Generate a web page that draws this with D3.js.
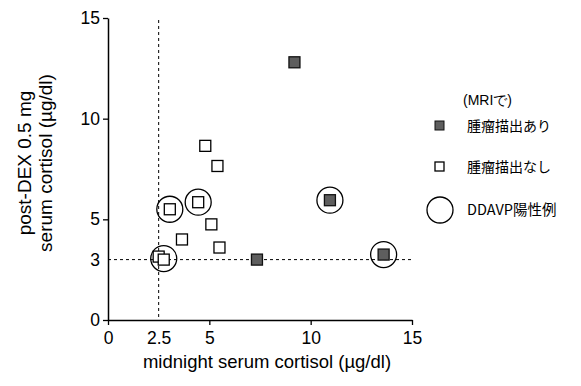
<!DOCTYPE html>
<html><head><meta charset="utf-8">
<script src="https://cdn.jsdelivr.net/npm/d3@7"></script>
<style>body{margin:0;background:#fff}text{font-family:"Liberation Sans",Arial,sans-serif}</style>
</head><body><svg id="c" width="581" height="386"></svg>
<script>
// data: [midnight cortisol, post-DEX cortisol]
const tumorYes = [[9.2,12.8],[10.95,5.95],[13.6,3.25],[7.35,3.0]];
const tumorNo = [[4.8,8.65],[5.4,7.65],[3.05,5.5],[4.45,5.85],[5.1,4.75],[3.65,4.0],[5.5,3.6],[2.5,3.15],[2.75,3.0]];
const ddavpPos = [[3.05,5.5],[4.45,5.85],[10.95,5.95],[13.6,3.25],[2.75,3.05]];
const xTicks = [0,2.5,5,10,15];
const yTicks = [0,3,5,10,15];
const cutX = 2.5, cutY = 3;
const legendLabels = ["(MRIで)","腫瘤描出あり","腫瘤描出なし","DDAVP陽性例"];

const svg = d3.select("#c");
const x = d3.scaleLinear().domain([0,15]).range([108,412]);
const y = d3.scaleLinear().domain([0,15]).range([320,18]);

// reference lines
svg.append("line").attr("x1",x(cutX)).attr("x2",x(cutX)).attr("y1",y(15)+2).attr("y2",y(0))
  .attr("stroke","#000").attr("stroke-width",1).attr("stroke-dasharray","3,3");
svg.append("line").attr("x1",x(0)).attr("x2",x(15)).attr("y1",y(cutY)).attr("y2",y(cutY))
  .attr("stroke","#000").attr("stroke-width",1).attr("stroke-dasharray","3,3");

const xa = svg.append("g").attr("transform",`translate(0,${y(0)})`)
  .call(d3.axisBottom(x).tickValues(xTicks).tickFormat(d=>d).tickSize(5).tickSizeOuter(0));
const ya = svg.append("g").attr("transform",`translate(${x(0)},0)`)
  .call(d3.axisLeft(y).tickValues(yTicks).tickFormat(d=>d).tickSize(5).tickSizeOuter(0));
[xa,ya].forEach(g=>{
  g.attr("font-size",null).attr("font-family",null);
  g.select(".domain").attr("stroke","#000").attr("stroke-width",1.5);
  g.selectAll(".tick line").attr("stroke","#000").attr("stroke-width",1.3);
  g.selectAll(".tick text").style("font-size","17.5px").attr("fill","#000")
   .style("font-family","'Liberation Sans',Arial,sans-serif");
});
xa.selectAll(".tick").filter(d=>d===2.5).select("line").remove();
ya.selectAll(".tick").filter(d=>d===3).select("line").remove();
xa.selectAll(".tick text").attr("y",0).attr("dy","24");
ya.selectAll(".tick text").attr("x",-8);

// axis titles
svg.append("text").attr("x",267).attr("y",368).attr("text-anchor","middle")
  .style("font-size","18.5px").text("midnight serum cortisol (µg/dl)");
const yt = svg.append("g").attr("transform","translate(0,163) rotate(-90)");
yt.append("text").attr("x",0).attr("y",31).attr("text-anchor","middle").style("font-size","19px").text("post-DEX 0.5 mg");
yt.append("text").attr("x",0).attr("y",52).attr("text-anchor","middle").style("font-size","19px").text("serum cortisol (µg/dl)");

const s = 11;
svg.append("g").selectAll("rect").data(tumorNo).join("rect")
  .attr("x",d=>x(d[0])-s/2).attr("y",d=>y(d[1])-s/2).attr("width",s).attr("height",s)
  .attr("fill","#fff").attr("stroke","#000").attr("stroke-width",1.3);
svg.append("g").selectAll("rect").data(tumorYes).join("rect")
  .attr("x",d=>x(d[0])-s/2).attr("y",d=>y(d[1])-s/2).attr("width",s).attr("height",s)
  .attr("fill","#5e5e5e").attr("stroke","#111").attr("stroke-width",1.3);
svg.append("g").selectAll("circle").data(ddavpPos).join("circle")
  .attr("cx",d=>x(d[0])).attr("cy",d=>y(d[1])).attr("r",13)
  .attr("fill","none").attr("stroke","#000").attr("stroke-width",1.3);

// legend
const lg = svg.append("g");
lg.append("text").attr("x",463).attr("y",105).style("font-size","14px").text(legendLabels[0]);
lg.append("rect").attr("x",435).attr("y",121).attr("width",9).attr("height",9).attr("fill","#5e5e5e").attr("stroke","#111");
lg.append("text").attr("x",467).attr("y",131).style("font-size","14px").style("font-family","'Noto Sans CJK JP',sans-serif").text(legendLabels[1]);
lg.append("rect").attr("x",435).attr("y",162).attr("width",9).attr("height",9).attr("fill","#fff").attr("stroke","#000").attr("stroke-width",1.3);
lg.append("text").attr("x",467).attr("y",172).style("font-size","14px").style("font-family","'Noto Sans CJK JP',sans-serif").text(legendLabels[2]);
lg.append("circle").attr("cx",440).attr("cy",210).attr("r",13).attr("fill","none").attr("stroke","#000").attr("stroke-width",1.3);
lg.append("text").attr("x",467).attr("y",215).style("font-size","14.5px").style("font-family","'Noto Sans CJK JP',sans-serif").text(legendLabels[3]);
</script></body></html>
